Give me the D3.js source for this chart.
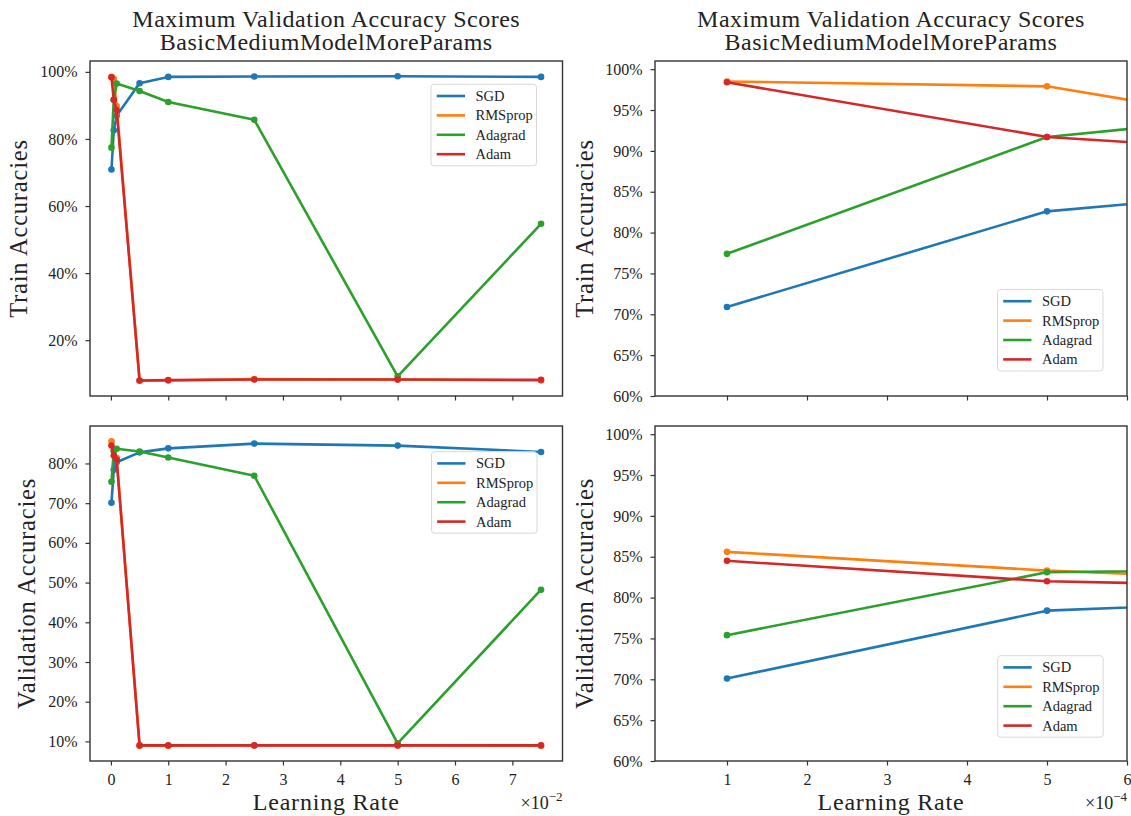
<!DOCTYPE html>
<html lang="en">
<head>
<meta charset="UTF-8">
<title>Maximum Validation Accuracy Scores</title>
<script src="https://d3js.org/d3.v7.min.js"></script>
<style>
  body { margin: 0; background: #fff; }
  svg text { font-family: "Liberation Serif", "Times New Roman", serif; fill: #222; }
  .tick line { stroke: #333; stroke-width: 1.2; }
  .tick text { font-size: 16px; }
</style>
</head>
<body>
<div id="chart"></div>
<script>

// learning rates tried
var learningRates = [0.0001, 0.0005, 0.001, 0.005, 0.01, 0.025, 0.05, 0.075];
var optimizers = ["SGD", "RMSprop", "Adagrad", "Adam"];
var colors = ["#1f77b4", "#ff7f0e", "#2ca02c", "#d62728"];

// train accuracies (%) per optimizer
var trainSGD     = [70.9, 82.6, 86.9, 96.6, 98.5, 98.6, 98.7, 98.5];
var trainRMSprop = [98.5, 97.9, 89.8, 7.9, 8.0, 8.4, 8.3, 8.0];
var trainAdagrad = [77.4, 91.7, 96.5, 94.3, 91.0, 85.7, 9.2, 54.7];
var trainAdam    = [98.4, 91.7, 88.6, 8.0, 8.1, 8.3, 8.3, 8.2];

// validation accuracies (%) per optimizer
var valSGD     = [70.1, 78.4, 80.3, 82.8, 83.8, 85.0, 84.5, 82.9];
var valRMSprop = [85.6, 83.3, 81.4, 8.9, 8.9, 8.95, 8.95, 8.9];
var valAdagrad = [75.4, 83.1, 83.7, 83.0, 81.5, 76.9, 9.5, 48.2];
var valAdam    = [84.5, 82.0, 81.0, 9.0, 9.0, 9.0, 9.0, 9.0];

// tick labels
var xTicksWide = [0, 1, 2, 3, 4, 5, 6, 7];      // x 1e-2
var xTicksZoom = [1, 2, 3, 4, 5, 6];            // x 1e-4
var yTicksTrainWide = [20, 40, 60, 80, 100];
var yTicksValWide = [10, 20, 30, 40, 50, 60, 70, 80];
var yTicksZoom = [60, 65, 70, 75, 80, 85, 90, 95, 100];

var trainSeries = [trainSGD, trainRMSprop, trainAdagrad, trainAdam];
var valSeries = [valSGD, valRMSprop, valAdagrad, valAdam];

var W = 1131, H = 816;
var svg = d3.select("#chart").append("svg")
  .attr("width", W).attr("height", H);

var cols = [[90, 562.5], [655, 1127]];
var rows = [[61, 396], [426, 761]];

function padded(ext) {
  var m = (ext[1] - ext[0]) * 0.05;
  return [ext[0] - m, ext[1] + m];
}

var panels = [
  {r: 0, c: 0, series: trainSeries, scale: 100, yTicks: yTicksTrainWide, xTicks: xTicksWide, label: "Train Accuracies", legend: [431, 84.3]},
  {r: 1, c: 0, series: valSeries, scale: 100, yTicks: yTicksValWide, xTicks: xTicksWide, label: "Validation Accuracies", legend: [431.5, 451.7]},
  {r: 0, c: 1, series: trainSeries, scale: 1e4, yTicks: yTicksZoom, xTicks: xTicksZoom, label: "Train Accuracies", legend: [997.5, 289.5], fixed: true},
  {r: 1, c: 1, series: valSeries, scale: 1e4, yTicks: yTicksZoom, xTicks: xTicksZoom, label: "Validation Accuracies", legend: [997.7, 655.7], fixed: true}
];

panels.forEach(function(p, i) {
  var x0 = cols[p.c][0], x1 = cols[p.c][1];
  var y0 = rows[p.r][0], y1 = rows[p.r][1];
  var xs = learningRates.map(function(d) { return d * p.scale; });

  var xDom, yDom;
  if (p.fixed) {
    xDom = [0.1, 6];
    yDom = [60, 101];
  } else {
    xDom = padded(d3.extent(xs));
    yDom = padded(d3.extent(d3.merge(p.series)));
  }
  var x = d3.scaleLinear().domain(xDom).range([x0, x1]);
  var y = d3.scaleLinear().domain(yDom).range([y1, y0]);

  var clipId = "clip" + i;
  svg.append("clipPath").attr("id", clipId)
    .append("rect").attr("x", x0).attr("y", y0)
    .attr("width", x1 - x0).attr("height", y1 - y0);

  var g = svg.append("g").attr("clip-path", "url(#" + clipId + ")");
  var line = d3.line()
    .x(function(d, j) { return x(xs[j]); })
    .y(function(d) { return y(d); });

  p.series.forEach(function(vals, k) {
    g.append("path")
      .attr("d", line(vals))
      .attr("fill", "none")
      .attr("stroke", colors[k])
      .attr("stroke-width", 2.6)
      .attr("stroke-linejoin", "round");
    g.selectAll(null).data(vals).enter().append("circle")
      .attr("cx", function(d, j) { return x(xs[j]); })
      .attr("cy", function(d) { return y(d); })
      .attr("r", 3.3)
      .attr("fill", colors[k]);
  });

  // axes
  var yAxis = svg.append("g")
    .attr("transform", "translate(" + x0 + ",0)")
    .call(d3.axisLeft(y).tickValues(p.yTicks).tickSize(4.5).tickPadding(8)
      .tickFormat(function(d) { return d + "%"; }));
  yAxis.select(".domain").remove();

  var xAxis = svg.append("g")
    .attr("transform", "translate(0," + y1 + ")")
    .call(d3.axisBottom(x).tickValues(p.xTicks).tickSize(4.5).tickPadding(8.5)
      .tickFormat(p.r === 0 ? "" : d3.format("d")));
  xAxis.select(".domain").remove();

  svg.append("rect")
    .attr("x", x0).attr("y", y0)
    .attr("width", x1 - x0).attr("height", y1 - y0)
    .attr("fill", "none").attr("stroke", "#333").attr("stroke-width", 1.4);

  // y label
  var labelX = p.c === 0 ? (p.r === 0 ? 27 : 35) : 593;
  svg.append("text")
    .attr("transform", "translate(" + labelX + "," + ((y0 + y1) / 2) + ") rotate(-90)")
    .attr("text-anchor", "middle")
    .style("font-size", "24.5px")
    .style("letter-spacing", "0.8px")
    .text(p.label);

  // legend
  var lx = p.legend[0], ly = p.legend[1];
  var lg = svg.append("g").attr("transform", "translate(" + lx + "," + ly + ")");
  lg.append("rect")
    .attr("width", 105.5).attr("height", 81.5)
    .attr("rx", 3).attr("ry", 3)
    .attr("fill", "#fff").attr("fill-opacity", 0.8)
    .attr("stroke", "#d9d9d9").attr("stroke-width", 1);
  optimizers.forEach(function(name, k) {
    var ry = 11.7 + k * 19.4;
    lg.append("line")
      .attr("x1", 5.7).attr("x2", 34)
      .attr("y1", ry).attr("y2", ry)
      .attr("stroke", colors[k]).attr("stroke-width", 2.6);
    lg.append("text")
      .attr("x", 44.5).attr("y", ry + 5)
      .style("font-size", "14.5px")
      .text(name);
  });

  if (p.r === 0) {
    var cx = (x0 + x1) / 2;
    var t = svg.append("text")
      .attr("text-anchor", "middle")
      .style("font-size", "24px")
      .style("letter-spacing", "0.5px");
    t.append("tspan").attr("x", cx).attr("y", 26.7).text("Maximum Validation Accuracy Scores");
    t.append("tspan").attr("x", cx).attr("y", 50.3).text("BasicMediumModelMoreParams");
  } else {
    svg.append("text")
      .attr("x", (x0 + x1) / 2).attr("y", 810)
      .attr("text-anchor", "middle")
      .style("font-size", "24px")
      .style("letter-spacing", "0.8px")
      .text("Learning Rate");

    var exp = svg.append("text")
      .attr("x", x1).attr("y", 809)
      .attr("text-anchor", "end")
      .style("font-size", "18px");
    exp.append("tspan").text("\u00d710");
    exp.append("tspan").attr("dy", -8).style("font-size", "13px")
      .text(p.c === 0 ? "\u22122" : "\u22124");
  }
});

</script>
</body>
</html>
